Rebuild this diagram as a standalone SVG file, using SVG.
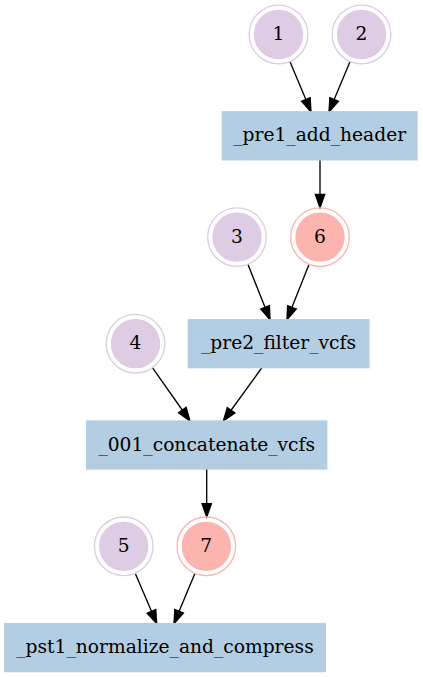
<svg xmlns="http://www.w3.org/2000/svg" width="423" height="677" viewBox="0 0 423 677">
<style>
text{font-family:"DejaVu Serif","Liberation Serif",serif;font-size:18.67px;text-anchor:middle;fill:#000}
.box{fill:#b3cde3;stroke:#b3cde3;stroke-width:1.33}
.pu .o{fill:none;stroke:#decbe4;stroke-width:1.33}
.pu .i{fill:#decbe4;stroke:#decbe4;stroke-width:1.33}
.rd .o{fill:none;stroke:#fbb4ae;stroke-width:1.33}
.rd .i{fill:#fbb4ae;stroke:#fbb4ae;stroke-width:1.33}
.e{fill:none;stroke:#000;stroke-width:1.33;marker-end:url(#ah)}
</style>
<defs>
<marker id="ah" markerUnits="userSpaceOnUse" markerWidth="14" markerHeight="10" refX="13.3" refY="4.67" orient="auto" overflow="visible">
<path d="M0,0 L13.3,4.67 L0,9.33 Z" fill="#000" stroke="#000" stroke-width="1.33"/>
</marker>
</defs>
<g id="connectors">
<line class="e" x1="289.9" y1="61.5" x2="311" y2="111.8"/>
<line class="e" x1="350.1" y1="61.5" x2="329" y2="111.8"/>
<line class="e" x1="320" y1="159.8" x2="320" y2="207.8"/>
<line class="e" x1="247.9" y1="264.3" x2="270" y2="319.7"/>
<line class="e" x1="309.1" y1="264.3" x2="287" y2="319.7"/>
<line class="e" x1="152.4" y1="367.6" x2="190" y2="421"/>
<line class="e" x1="261.7" y1="368" x2="223.3" y2="421"/>
<line class="e" x1="206.7" y1="469" x2="206.7" y2="517"/>
<line class="e" x1="135.2" y1="573.2" x2="156.7" y2="623.6"/>
<line class="e" x1="195" y1="573.3" x2="174" y2="623.6"/>
</g>
<g id="n1" class="pu"><circle class="o" cx="278.5" cy="34.5" r="29.3"/><circle class="i" cx="278.5" cy="34.5" r="24"/><text x="278.5" y="40.1">1</text></g>
<g id="n2" class="pu"><circle class="o" cx="361.5" cy="34.5" r="29.3"/><circle class="i" cx="361.5" cy="34.5" r="24"/><text x="361.5" y="40.1">2</text></g>
<g id="pre1"><rect class="box" x="222.3" y="111.8" width="194.7" height="48"/><text x="319.7" y="141.4">_pre1_add_header</text></g>
<g id="n3" class="pu"><circle class="o" cx="237" cy="237.1" r="29.3"/><circle class="i" cx="237" cy="237.1" r="24"/><text x="237" y="242.7">3</text></g>
<g id="n6" class="rd"><circle class="o" cx="320" cy="237.1" r="29.3"/><circle class="i" cx="320" cy="237.1" r="24"/><text x="320" y="242.7">6</text></g>
<g id="n4" class="pu"><circle class="o" cx="135.5" cy="343.7" r="29.3"/><circle class="i" cx="135.5" cy="343.7" r="24"/><text x="135.5" y="349.3">4</text></g>
<g id="pre2"><rect class="box" x="188.3" y="319.7" width="180.5" height="48"/><text x="278.5" y="349.3">_pre2_filter_vcfs</text></g>
<g id="concat"><rect class="box" x="86.7" y="421" width="240" height="48"/><text x="206.7" y="450.6">_001_concatenate_vcfs</text></g>
<g id="n5" class="pu"><circle class="o" cx="123.7" cy="546.3" r="29.3"/><circle class="i" cx="123.7" cy="546.3" r="24"/><text x="123.7" y="551.9">5</text></g>
<g id="n7" class="rd"><circle class="o" cx="206.3" cy="546.3" r="29.3"/><circle class="i" cx="206.3" cy="546.3" r="24"/><text x="206.3" y="551.9">7</text></g>
<g id="pst1"><rect class="box" x="4.7" y="623.6" width="320.6" height="48"/><text x="165" y="653.2">_pst1_normalize_and_compress</text></g>
</svg>
